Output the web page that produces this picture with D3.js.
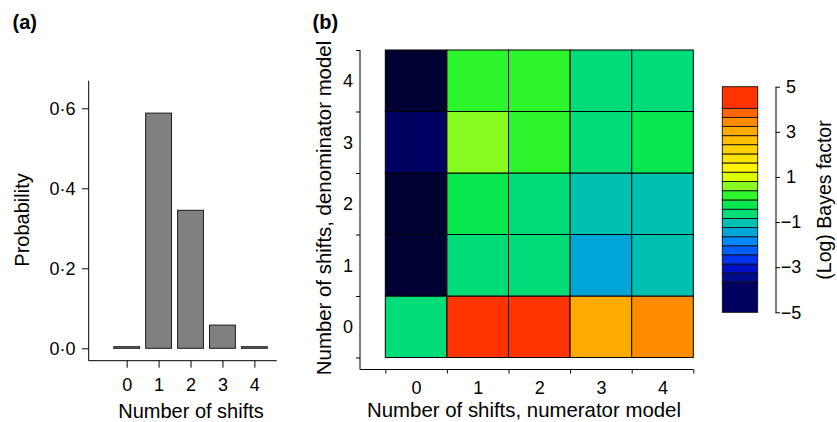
<!DOCTYPE html>
<html>
<head>
<meta charset="utf-8">
<script src="https://cdn.jsdelivr.net/npm/d3@7"></script>
<style>
  html, body { margin: 0; padding: 0; background: #fff; }
  svg { display: block; font-family: "Liberation Sans", Arial, sans-serif; }
  .domain, .tick line { stroke: #000; }
</style>
</head>
<body>
<svg id="chart" width="837" height="422"></svg>
<script>
// ---------- Data ----------
// Panel (a): posterior probability of number of shifts
const shiftCounts = [0, 1, 2, 3, 4];
const shiftProbabilities = [0.004, 0.588, 0.345, 0.058, 0.004];
const probTicks = [0, 0.2, 0.4, 0.6];

// Panel (b): (log) Bayes factors, rows = denominator model, cols = numerator model
const numeratorShifts = [0, 1, 2, 3, 4];
const denominatorShifts = [0, 1, 2, 3, 4];
const logBFden0 = [-0.6, 4.5, 4.5, 3.0, 3.4];
const logBFden1 = [-6.0, -0.6, -0.6, -1.4, -1.0];
const logBFden2 = [-6.0, -0.2, -0.6, -1.0, -1.0];
const logBFden3 = [-4.5, 0.6, 0.2, -0.6, -0.2];
const logBFden4 = [-6.0, 0.2, 0.2, -0.6, -0.6];
const logBF = [logBFden0, logBFden1, logBFden2, logBFden3, logBFden4];

// Colour key
const bfBreaks = [-5, -3.66, -3.26, -2.86, -2.45, -2.05, -1.65, -1.24, -0.84, -0.43,
                  -0.02, 0.39, 0.80, 1.21, 1.62, 2.02, 2.43, 2.83, 3.24, 3.64, 4.04, 5];
const bfColors = ["#000062", "#000a8c", "#0010c8", "#0033ee", "#0060ff", "#0088ff",
                  "#00a5d8", "#00c0b0", "#00dc78", "#0ae850", "#2cf52c", "#88fc20",
                  "#dcff00", "#fcf400", "#ffe400", "#ffd200", "#ffbe00", "#ffaa00",
                  "#ff8c00", "#ff6600", "#ff3300"];
const underColor = "#000033";
const bfTicks = [5, 3, 1, -1, -3, -5];

// ---------- Drawing ----------
const svg = d3.select("#chart");
const fmtDot = d => d3.format(".1f")(d).replace(".", "\u00B7");
const tickFont = 18;
const FF = "Liberation Sans, Arial, sans-serif";

// ===== Panel (a) =====
const ax = d3.scaleLinear().domain([-1.19, 4.7]).range([88.7, 276.7]);
const ay = d3.scaleLinear().domain([0, 0.6]).range([348.3, 108.3]);
const barW = 0.81;

svg.append("text").attr("x", 12.5).attr("y", 29)
  .attr("font-size", 20).attr("font-weight", "bold").text("(a)");

svg.append("g").selectAll("rect").data(shiftCounts).join("rect")
  .attr("x", (d) => ax(d - barW / 2))
  .attr("width", ax(barW) - ax(0))
  .attr("y", (d, i) => ay(shiftProbabilities[i]))
  .attr("height", (d, i) => Math.max(1.5, ay(0) - ay(shiftProbabilities[i])))
  .attr("fill", "#808080").attr("stroke", "#1a1a1a").attr("stroke-width", 1);

// y axis (a)
const ayAxis = svg.append("g").attr("transform", "translate(88.7,0)")
  .call(d3.axisLeft(ay).tickValues(probTicks).tickFormat(fmtDot).tickSize(6.7).tickPadding(6.5).tickSizeOuter(0));
ayAxis.select(".domain").attr("d", `M0,${ay(-0.031)}V${ay(0.669)}`);
ayAxis.selectAll("text").attr("font-size", tickFont).attr("font-family", FF);

// x axis (a)
const axAxis = svg.append("g").attr("transform", "translate(0,360.7)")
  .call(d3.axisBottom(ax).tickValues(shiftCounts).tickFormat(d3.format("d")).tickSize(7).tickPadding(10.5).tickSizeOuter(0));
axAxis.select(".domain").attr("d", `M${ax(-1.19)},0H${ax(4.7)}`);
axAxis.selectAll("text").attr("font-size", tickFont).attr("font-family", FF);

svg.append("text").attr("x", 191).attr("y", 417.5).attr("text-anchor", "middle")
  .attr("font-size", 20).text("Number of shifts");
svg.append("text").attr("transform", "translate(29,220) rotate(-90)")
  .attr("text-anchor", "middle").attr("font-size", 20).text("Probability");

// ===== Panel (b) =====
const hx = d3.scaleLinear().domain([-0.5, 4.5]).range([385.3, 693.3]);
const hy = d3.scaleLinear().domain([-0.5, 4.5]).range([357.5, 50]);
const colorScale = d3.scaleThreshold().domain(bfBreaks.slice(1, -1)).range(bfColors);
const cellColor = v => (v < bfBreaks[0] ? underColor : colorScale(v));

svg.append("text").attr("x", 312.5).attr("y", 29)
  .attr("font-size", 20).attr("font-weight", "bold").text("(b)");

const cells = [];
denominatorShifts.forEach((dn, r) => numeratorShifts.forEach((nm, c) => cells.push({ nm, dn, v: logBF[r][c] })));

svg.append("g").selectAll("rect").data(cells).join("rect")
  .attr("x", d => hx(d.nm - 0.5)).attr("y", d => hy(d.dn + 0.5))
  .attr("width", hx(1) - hx(0)).attr("height", hy(0) - hy(1))
  .attr("fill", d => cellColor(d.v))
  .attr("stroke", "#000").attr("stroke-width", 1);

const boundaries = [-0.5, 0.5, 1.5, 2.5, 3.5, 4.5];
const axisY = 369.5, axisX = 360;

// x axis (b): ticks at boundaries, labels at centres
const hxTicks = svg.append("g").attr("transform", `translate(0,${axisY})`)
  .call(d3.axisBottom(hx).tickValues(boundaries).tickFormat("").tickSize(4).tickSizeOuter(0));
hxTicks.select(".domain").attr("d", `M${axisX},0H${hx(4.5)}`);
const hxLabels = svg.append("g").attr("transform", `translate(0,${axisY})`)
  .call(d3.axisBottom(hx).tickValues(numeratorShifts).tickFormat(d3.format("d")).tickSize(0).tickPadding(11.5));
hxLabels.select(".domain").remove();
hxLabels.selectAll("text").attr("font-size", tickFont).attr("font-family", FF);

// y axis (b)
const hyTicks = svg.append("g").attr("transform", `translate(${axisX},0)`)
  .call(d3.axisLeft(hy).tickValues(boundaries).tickFormat("").tickSize(4).tickSizeOuter(0));
hyTicks.select(".domain").attr("d", `M0,${hy(4.5)}V${axisY}`);
const hyLabels = svg.append("g").attr("transform", `translate(${axisX},0)`)
  .call(d3.axisLeft(hy).tickValues(denominatorShifts).tickFormat(d3.format("d")).tickSize(0).tickPadding(7));
hyLabels.select(".domain").remove();
hyLabels.selectAll("text").attr("font-size", tickFont).attr("font-family", FF);

svg.append("text").attr("x", 524).attr("y", 416.7).attr("text-anchor", "middle")
  .attr("font-size", 20.4).text("Number of shifts, numerator model");
svg.append("text").attr("transform", "translate(330.5,208) rotate(-90)")
  .attr("text-anchor", "middle").attr("font-size", 20.4).text("Number of shifts, denominator model");

// ===== Colour key =====
const ky = d3.scaleLinear().domain([-5, 5]).range([312.3, 86.7]);
const keyX0 = 722.3, keyX1 = 757.7;
const keyBlocks = bfColors.map((c, i) => ({ lo: bfBreaks[i], hi: bfBreaks[i + 1], c }));
svg.append("g").selectAll("rect").data(keyBlocks).join("rect")
  .attr("x", keyX0).attr("width", keyX1 - keyX0)
  .attr("y", d => ky(d.hi)).attr("height", d => ky(d.lo) - ky(d.hi))
  .attr("fill", d => d.c).attr("stroke", "#111").attr("stroke-width", 0.9);

const kAxis = svg.append("g").attr("transform", "translate(775.5,0)")
  .call(d3.axisRight(ky).tickValues(bfTicks).tickFormat(d3.format("d")).tickSize(4.5).tickSizeOuter(0));
kAxis.selectAll("text").attr("font-size", tickFont).attr("font-family", FF)
  .attr("text-anchor", "middle").attr("x", 15.5);

svg.append("text").attr("transform", "translate(830.5,200) rotate(-90)")
  .attr("text-anchor", "middle").attr("font-size", 19.5).text("(Log) Bayes factor");
</script>
</body>
</html>
